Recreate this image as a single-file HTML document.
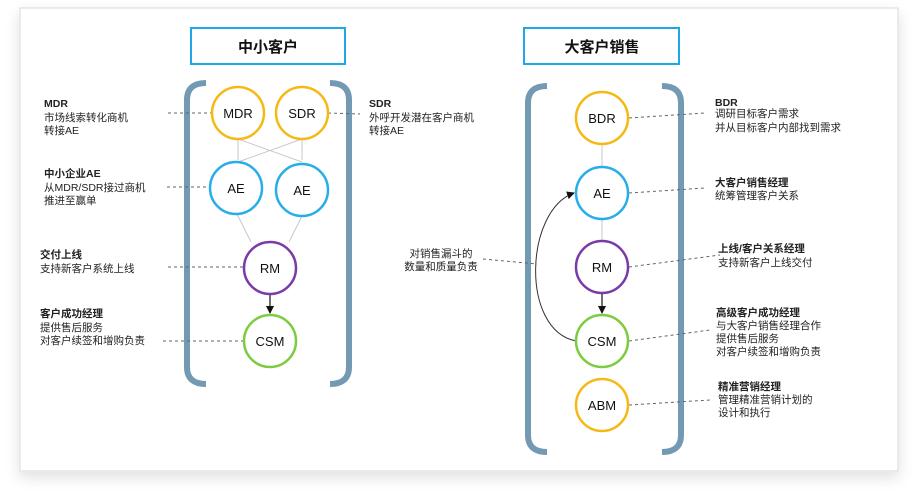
<!DOCTYPE html>
<html><head><meta charset="utf-8"><style>
html,body{margin:0;padding:0;background:#fff;}
svg{display:block;font-family:"Liberation Sans","Noto Sans CJK SC",sans-serif;}
</style></head><body>
<svg width="918" height="504" viewBox="0 0 918 504" xmlns="http://www.w3.org/2000/svg">
<defs>
<filter id="sh" x="-5%" y="-5%" width="110%" height="120%"><feDropShadow dx="0" dy="6" stdDeviation="7" flood-color="#000" flood-opacity="0.12"/></filter>
<marker id="ar" markerWidth="8" markerHeight="8" refX="7" refY="4" orient="auto" markerUnits="userSpaceOnUse"><path d="M0,0 L8,4 L0,8 z" fill="#111"/></marker>
</defs>
<rect x="20" y="8" width="878" height="463" fill="#fff" stroke="#dfe6ec" stroke-width="1.5" filter="url(#sh)"/>

<!-- titles -->
<rect x="191" y="28" width="154" height="36" fill="#fff" stroke="#1fa8e8" stroke-width="2"/>
<text x="268" y="52" text-anchor="middle" font-size="15" font-weight="bold" fill="#111">中小客户</text>
<rect x="524" y="28" width="155" height="36" fill="#fff" stroke="#1fa8e8" stroke-width="2"/>
<text x="602" y="52" text-anchor="middle" font-size="15" font-weight="bold" fill="#111">大客户销售</text>

<!-- brackets -->
<g fill="none" stroke="#7399b3" stroke-width="6">
<path d="M206,83 Q187,83 187,100 L187,367 Q187,384 206,384"/>
<path d="M330,83 Q349,83 349,100 L349,367 Q349,384 330,384"/>
<path d="M547,86 Q528,86 528,103 L528,435 Q528,452 547,452"/>
<path d="M662,86 Q681,86 681,103 L681,435 Q681,452 662,452"/>
</g>

<!-- left connectors -->
<g stroke="#c8c8c8" stroke-width="1" fill="none">
<path d="M238,139 L238,160 M302,139 L302,160 M238,139 L302,162 M302,139 L238,162"/>
<path d="M237,214 L251,242 M302,216 L289,242"/>
<path d="M602,145 L602,167 M602,220 L602,240"/>
</g>
<line x1="270" y1="295" x2="270" y2="313" stroke="#111" stroke-width="1.2" marker-end="url(#ar)"/>
<line x1="602" y1="293" x2="602" y2="313" stroke="#111" stroke-width="1.2" marker-end="url(#ar)"/>
<path d="M576,341 C520,330 525,210 574,193" fill="none" stroke="#333" stroke-width="1" marker-end="url(#ar)"/>

<!-- dashed -->
<g stroke="#666" stroke-width="1" stroke-dasharray="3,3" fill="none">
<path d="M168,113 L212,113"/><path d="M328,113 L360,114"/>
<path d="M167,187 L210,187"/><path d="M168,267 L243,267"/><path d="M163,341 L243,341"/>
<path d="M629,118 L705,113"/><path d="M629,193 L705,188"/><path d="M629,267 L720,255"/>
<path d="M629,341 L710,330"/><path d="M629,405 L710,400"/><path d="M483,259 L537,264"/>
</g>

<!-- nodes -->
<g stroke-width="2.5" fill="#fff">
<circle cx="238" cy="113" r="26" stroke="#f5b916"/>
<circle cx="302" cy="113" r="26" stroke="#f5b916"/>
<circle cx="236" cy="188" r="26" stroke="#27aeea"/>
<circle cx="302" cy="190" r="26" stroke="#27aeea"/>
<circle cx="270" cy="268" r="26" stroke="#7b3aa9"/>
<circle cx="270" cy="341" r="26" stroke="#7dcc3f"/>
<circle cx="602" cy="118" r="26" stroke="#f5b916"/>
<circle cx="602" cy="193" r="26" stroke="#27aeea"/>
<circle cx="602" cy="267" r="26" stroke="#7b3aa9"/>
<circle cx="602" cy="341" r="26" stroke="#7dcc3f"/>
<circle cx="602" cy="405" r="26" stroke="#f5b916"/>
</g>
<g font-size="13" fill="#111" text-anchor="middle">
<text x="238" y="118">MDR</text><text x="302" y="118">SDR</text>
<text x="236" y="193">AE</text><text x="302" y="195">AE</text>
<text x="270" y="273">RM</text><text x="270" y="346">CSM</text>
<text x="602" y="123">BDR</text><text x="602" y="198">AE</text>
<text x="602" y="272">RM</text><text x="602" y="346">CSM</text><text x="602" y="410">ABM</text>
</g>

<!-- labels -->
<g font-size="10.5" fill="#222">
<text x="44" y="107" font-weight="bold">MDR</text>
<text x="44" y="121">市场线索转化商机</text><text x="44" y="134">转接AE</text>
<text x="369" y="107" font-weight="bold">SDR</text>
<text x="369" y="121">外呼开发潜在客户商机</text><text x="369" y="134">转接AE</text>
<text x="44" y="177" font-weight="bold">中小企业AE</text>
<text x="44" y="191">从MDR/SDR接过商机</text><text x="44" y="204">推进至赢单</text>
<text x="40" y="258" font-weight="bold">交付上线</text>
<text x="40" y="272">支持新客户系统上线</text>
<text x="40" y="317" font-weight="bold">客户成功经理</text>
<text x="40" y="331">提供售后服务</text><text x="40" y="344">对客户续签和增购负责</text>
<text x="441" y="257" text-anchor="middle">对销售漏斗的</text>
<text x="441" y="270" text-anchor="middle">数量和质量负责</text>
<text x="715" y="106" font-weight="bold">BDR</text>
<text x="715" y="117">调研目标客户需求</text><text x="715" y="131">并从目标客户内部找到需求</text>
<text x="715" y="186" font-weight="bold">大客户销售经理</text>
<text x="715" y="199">统筹管理客户关系</text>
<text x="718" y="252" font-weight="bold">上线/客户关系经理</text>
<text x="718" y="266">支持新客户上线交付</text>
<text x="716" y="316" font-weight="bold">高级客户成功经理</text>
<text x="716" y="329">与大客户销售经理合作</text>
<text x="716" y="342">提供售后服务</text>
<text x="716" y="355">对客户续签和增购负责</text>
<text x="718" y="390" font-weight="bold">精准营销经理</text>
<text x="718" y="403">管理精准营销计划的</text><text x="718" y="416">设计和执行</text>
</g>
</svg>
</body></html>
